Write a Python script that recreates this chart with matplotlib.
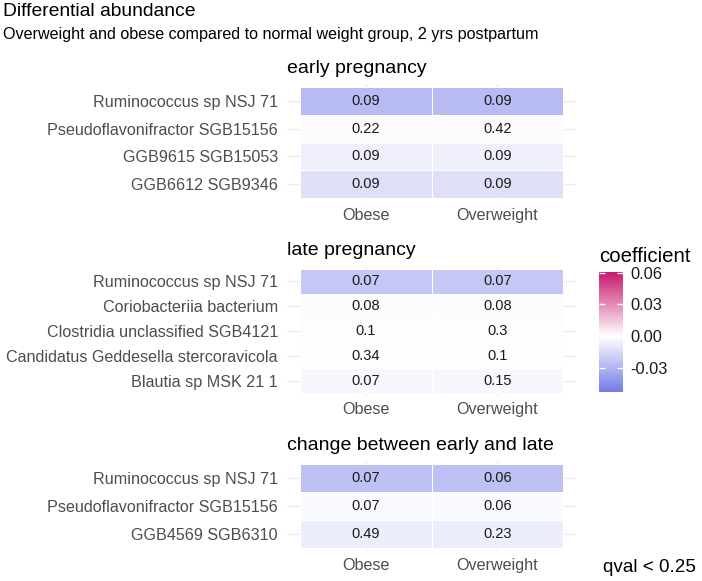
import matplotlib
matplotlib.use("Agg")
import matplotlib.pyplot as plt
import numpy as np
from matplotlib.colors import LinearSegmentedColormap, Normalize
from matplotlib.cm import ScalarMappable

plt.rcParams['font.family'] = ['Liberation Sans', 'DejaVu Sans']

# data: rows top to bottom, columns = groups
groups = ["Obese", "Overweight"]

early_taxa = ["Ruminococcus sp NSJ 71", "Pseudoflavonifractor SGB15156",
              "GGB9615 SGB15053", "GGB6612 SGB9346"]
early_coef = [[-0.027, -0.027], [-0.0015, -0.0015], [-0.0057, -0.0057], [-0.0125, -0.0125]]
early_qval = [["0.09", "0.09"], ["0.22", "0.42"], ["0.09", "0.09"], ["0.09", "0.09"]]

late_taxa = ["Ruminococcus sp NSJ 71", "Coriobacteriia bacterium",
             "Clostridia unclassified SGB4121", "Candidatus Geddesella stercoravicola",
             "Blautia sp MSK 21 1"]
late_coef = [[-0.022, -0.022], [-0.001, -0.001], [-0.0005, -0.0005], [-0.0003, -0.0003], [-0.003, -0.003]]
late_qval = [["0.07", "0.07"], ["0.08", "0.08"], ["0.1", "0.3"], ["0.34", "0.1"], ["0.07", "0.15"]]

change_taxa = ["Ruminococcus sp NSJ 71", "Pseudoflavonifractor SGB15156", "GGB4569 SGB6310"]
change_coef = [[-0.025, -0.025], [-0.002, -0.002], [-0.007, -0.007]]
change_qval = [["0.07", "0.06"], ["0.07", "0.06"], ["0.49", "0.23"]]

panel_titles = ["early pregnancy", "late pregnancy", "change between early and late"]

coef_min, coef_max = -0.0527, 0.0606
cbar_ticks = [-0.03, 0.0, 0.03, 0.06]

W, H = 702, 581
fig = plt.figure(figsize=(W / 100, H / 100), dpi=100)

cmap = LinearSegmentedColormap.from_list("div", ["#5F69E1", "#FFFFFF", "#C8186E"])
lim = max(abs(coef_min), abs(coef_max))
norm = Normalize(-lim, lim)

# panel boxes in pixels (top, bottom)
x0, x1 = 286.85, 576.15
boxes = [(84.2, 200.8), (266.5, 395.5), (461.2, 550.8)]

panels = [(early_taxa, early_coef, early_qval),
          (late_taxa, late_coef, late_qval),
          (change_taxa, change_coef, change_qval)]

for (taxa, coef, qval), (top, bot), title in zip(panels, boxes, panel_titles):
    ax = fig.add_axes([x0 / W, 1 - bot / H, (x1 - x0) / W, (bot - top) / H])
    n = len(taxa)
    xe = np.arange(len(groups) + 1) + 0.5
    ye = np.arange(n + 1) + 0.5
    ax.pcolormesh(xe, ye, np.array(coef), cmap=cmap, norm=norm,
                  edgecolors="white", linewidth=0.7, zorder=2)
    for i in range(n):
        for j in range(len(groups)):
            ax.text(j + 1, i + 1, qval[i][j], ha="center", va="center",
                    fontsize=10.5, color="#1A1A1A", zorder=3)
    ax.set_xlim(0.4, len(groups) + 0.6)
    ax.set_ylim(n + 0.6, 0.4)
    ax.set_xticks(range(1, len(groups) + 1))
    ax.set_xticklabels(groups)
    ax.set_yticks(range(1, n + 1))
    ax.set_yticklabels(taxa)
    ax.tick_params(length=0, labelsize=11.6, labelcolor="#4D4D4D")
    ax.tick_params(axis="y", pad=6.4)
    ax.tick_params(axis="x", pad=5)
    ax.grid(True, color="#EBEBEB", linewidth=1.0, zorder=0)
    ax.set_axisbelow(True)
    for s in ax.spines.values():
        s.set_visible(False)
    ax.set_title(title, loc="left", fontsize=14, pad=8, color="black")

# colour bar
cax = fig.add_axes([599 / W, 1 - 392 / H, 24 / W, 120 / H])
sm = ScalarMappable(norm=norm, cmap=cmap)
cb = fig.colorbar(sm, cax=cax, boundaries=np.linspace(coef_min, coef_max, 300))
cb.outline.set_visible(False)
cb.set_ticks(cbar_ticks)
cb.set_ticklabels(["-0.03", "0.00", "0.03", "0.06"])
cax.yaxis.set_ticks_position("both")
cax.tick_params(direction="in", color="white", length=4, width=1,
                labelsize=11.8, labelcolor="#1A1A1A", pad=5,
                labelleft=False, labelright=True)
fig.text(599 / W, 1 - 256 / H, "coefficient", fontsize=14.7, ha="left", va="center")

fig.text(3 / W, 1 - 12 / H, "Differential abundance", fontsize=13.9, ha="left", va="center")
fig.text(3 / W, 1 - 35 / H, "Overweight and obese compared to normal weight group, 2 yrs postpartum",
         fontsize=11.6, ha="left", va="center")
fig.text(696 / W, 1 - 568 / H, "qval < 0.25", fontsize=13.6, ha="right", va="center")

fig.savefig("out.png", dpi=100)
